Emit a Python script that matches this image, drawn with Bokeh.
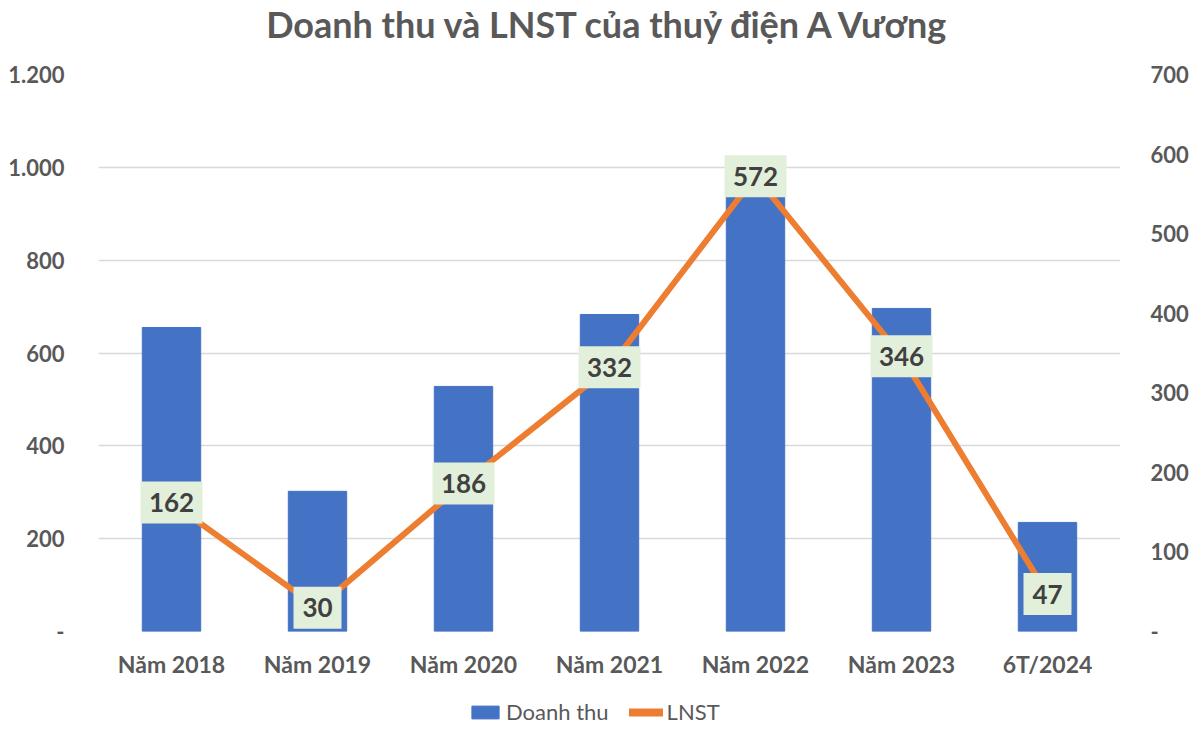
from bokeh.plotting import figure
from bokeh.layouts import column
from bokeh.models import (ColumnDataSource, FactorRange, Range1d, LinearAxis,
                          FixedTicker, Legend, LegendItem)
from bokeh.core.properties import value
from bokeh.embed import file_html
from bokeh.resources import INLINE

title_text = "Doanh thu và LNST của thuỷ điện A Vương"
categories = ["Năm 2018", "Năm 2019", "Năm 2020", "Năm 2021", "Năm 2022", "Năm 2023", "6T/2024"]
doanh_thu = [655, 302, 528, 683, 950, 696, 235]
lnst = [162, 30, 186, 332, 572, 346, 47]
left_ticks = [0, 200, 400, 600, 800, 1000, 1200]
left_labels = ["-", "200", "400", "600", "800", "1.000", "1.200"]
right_ticks = [0, 100, 200, 300, 400, 500, 600, 700]
right_labels = ["-", "100", "200", "300", "400", "500", "600", "700"]

FONT = "Lato"
GRAY = "#595959"
W = 1192


def bare(fig):
    fig.axis.visible = False
    fig.grid.grid_line_color = None
    fig.outline_line_color = None
    fig.border_fill_color = "white"
    fig.background_fill_color = "white"


# title strip
p0 = figure(x_range=Range1d(0, 1), y_range=Range1d(0, 1), width=W, height=50,
            output_backend="svg", toolbar_location=None,
            min_border_left=0, min_border_right=0, min_border_top=0,
            min_border_bottom=0)
bare(p0)
p0.text(x=[0.5], y=[0.54], text=[title_text], text_align="center",
        text_baseline="middle", text_font=value(FONT), text_font_size="36px",
        text_font_style="bold", text_color=GRAY)

labels = [str(v) for v in lnst]
box_w = [14 * len(s) + 20 for s in labels]
src = ColumnDataSource(dict(x=categories, dt=doanh_thu, ln=lnst,
                            lbl=labels, bw=box_w))

p = figure(x_range=FactorRange(*categories, range_padding=0),
           y_range=Range1d(0, 1200), width=W, height=640,
           output_backend="svg", toolbar_location=None,
           min_border_left=98, min_border_right=W - 1120, min_border_top=24,
           min_border_bottom=59)
p.extra_y_ranges = {"right": Range1d(0, 700)}
p.outline_line_color = None
p.background_fill_color = "white"
p.border_fill_color = "white"

p.xgrid.grid_line_color = None
p.ygrid.grid_line_color = "#d9d9d9"
p.ygrid.grid_line_width = 1.5
p.ygrid.ticker = FixedTicker(ticks=left_ticks)

ax = p.yaxis[0]
ax.ticker = FixedTicker(ticks=left_ticks)
ax.major_label_overrides = {t: l for t, l in zip(left_ticks, left_labels)}
ax.axis_line_color = None
ax.major_tick_line_color = None
ax.minor_tick_line_color = None
ax.major_label_text_font = FONT
ax.major_label_text_font_size = "22px"
ax.major_label_text_font_style = "bold"
ax.major_label_text_color = GRAY
ax.major_label_standoff = 28

rax = LinearAxis(y_range_name="right", ticker=FixedTicker(ticks=right_ticks))
rax.major_label_overrides = {t: l for t, l in zip(right_ticks, right_labels)}
rax.axis_line_color = None
rax.major_tick_line_color = None
rax.minor_tick_line_color = None
rax.major_label_text_font = FONT
rax.major_label_text_font_size = "22px"
rax.major_label_text_font_style = "bold"
rax.major_label_text_color = GRAY
rax.major_label_standoff = 24
p.add_layout(rax, "right")

xa = p.xaxis[0]
xa.axis_line_color = None
xa.major_tick_line_color = None
xa.major_label_text_font = FONT
xa.major_label_text_font_size = "23px"
xa.major_label_text_font_style = "bold"
xa.major_label_text_color = GRAY
xa.major_label_standoff = 12

p.vbar(x="x", top="dt", width=0.4, source=src, color="#4472C4")
p.line(x="x", y="ln", source=src, y_range_name="right",
       line_color="#ED7D31", line_width=6)
p.rect(x="x", y="ln", width="bw", height=42, width_units="screen",
       height_units="screen", source=src, y_range_name="right",
       fill_color="#E2EFDA", line_color=None)
p.text(x="x", y="ln", text="lbl", source=src, y_range_name="right",
       text_align="center", text_baseline="middle", text_font=value(FONT),
       text_font_size="26px", text_font_style="bold", text_color="#404040")

# legend strip (series drawn outside its visible range; only the legend shows)
p2 = figure(x_range=FactorRange(*categories), y_range=Range1d(5000, 6000),
            width=W, height=44, output_backend="svg", toolbar_location=None,
            min_border_left=0, min_border_right=0, min_border_top=0,
            min_border_bottom=0)
bare(p2)
lb = p2.vbar(x=categories, top=doanh_thu, width=0.4, color="#4472C4")
ll = p2.line(x=categories, y=lnst, line_color="#ED7D31", line_width=8,
             line_cap="round")
legend = Legend(items=[LegendItem(label="Doanh thu", renderers=[lb]),
                       LegendItem(label="LNST", renderers=[ll])],
                orientation="horizontal", location=(370, 9),
                label_text_font=FONT, label_text_font_size="22px",
                label_text_color=GRAY, border_line_color=None,
                background_fill_alpha=0, glyph_width=34, glyph_height=16,
                spacing=20, label_standoff=4, padding=2, margin=0)
p2.add_layout(legend, "center")

open("out.html", "w").write(file_html(column(p0, p, p2, spacing=0), INLINE))
